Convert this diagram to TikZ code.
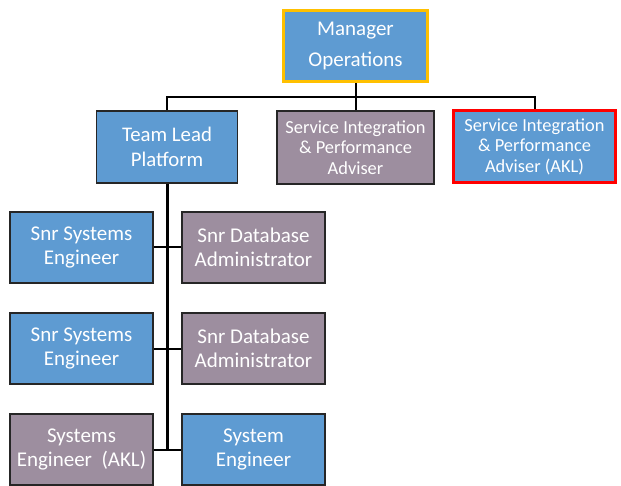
\documentclass[tikz,border=0pt]{standalone}
\usepackage{fontspec}
\setmainfont{Carlito}
\definecolor{boxblue}{HTML}{5E9BD2}
\definecolor{boxmauve}{HTML}{9D8E9F}
\definecolor{edgegray}{HTML}{262626}
\definecolor{gold}{HTML}{FFC000}
\tikzset{
  card/.style={rectangle, draw=edgegray, line width=1.6pt, inner sep=0pt,
    align=center, text=white, minimum width=143pt, minimum height=71pt},
  bluecard/.style={card, fill=boxblue},
  mauvecard/.style={card, fill=boxmauve},
  big/.style={font=\fontsize{21}{24}\selectfont},
  small/.style={font=\fontsize{18.4}{20.5}\selectfont},
  link/.style={draw=black, line width=2pt},
}
\begin{document}
\begin{tikzpicture}[x=1pt,y=-1pt]
\useasboundingbox (0,0) rectangle (621,486);
% top level
\node[bluecard, draw=gold, line width=3pt, minimum width=144pt,
  font=\fontsize{21}{31}\selectfont] (mgr) at (355.5,46) {Manager\\Operations};
% second level
\node[bluecard, big, minimum width=141pt, minimum height=72pt,
  font=\fontsize{20.8}{25}\selectfont] (tl) at (167,147) {Team Lead\\Platform};
\node[mauvecard, small, minimum width=157pt, minimum height=73pt] (sipa) at (355.5,147.5)
  {Service Integration\\\& Performance\\Adviser};
\node[bluecard, small, draw=red, line width=3pt, minimum width=162pt, minimum height=72pt]
  (akl) at (534.5,146.5) {Service Integration\\\& Performance\\Adviser (AKL)};
% platform team
\node[bluecard, big] (l1) at (81.5,247.5) {Snr Systems\\Engineer};
\node[mauvecard, big] (r1) at (253.5,247.5) {Snr Database\\Administrator};
\node[bluecard, big] (l2) at (81.5,348.5) {Snr Systems\\Engineer};
\node[mauvecard, big] (r2) at (253.5,348.5) {Snr Database\\Administrator};
\node[mauvecard, big] (l3) at (81.5,449.5) {Systems\\Engineer\ \ (AKL)};
\node[bluecard, big] (r3) at (253.5,449.5) {System\\Engineer};
% connectors
\coordinate (bar) at (0,97);
\draw[link] (mgr.south) -- (mgr.south |- bar);
\draw[link] (tl.north) -- (tl.north |- bar) -- (akl.north |- bar) -- (akl.north);
\draw[link] (sipa.north) -- (sipa.north |- bar);
\draw[link, line width=3pt] (tl.south) -- (tl.south |- l3.east);
\draw[link] (l1.east) -- (r1.west);
\draw[link] (l2.east) -- (r2.west);
\draw[link] (l3.east) -- (r3.west);
\end{tikzpicture}
\end{document}
